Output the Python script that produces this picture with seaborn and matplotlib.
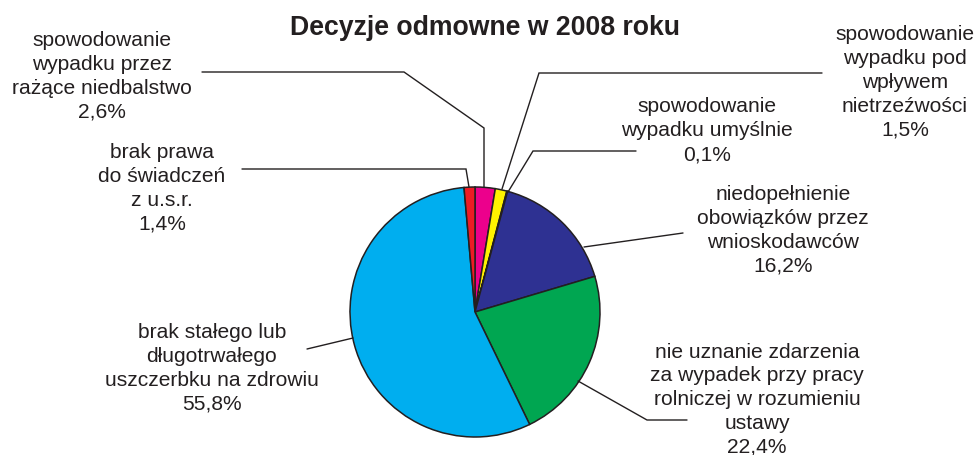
import matplotlib
matplotlib.use("Agg")
import matplotlib.pyplot as plt
import seaborn as sns

sns.set_theme(style="white")
plt.rcParams['font.family'] = ['Liberation Sans', 'DejaVu Sans']

# ---- data (clockwise from 12 o'clock) ----
categories = [
    "spowodowanie\nwypadku przez\nrażące niedbalstwo",
    "spowodowanie\nwypadku pod\nwpływem\nnietrzeźwości",
    "spowodowanie\nwypadku umyślnie",
    "niedopełnienie\nobowiązków przez\nwnioskodawców",
    "nie uznanie zdarzenia\nza wypadek przy pracy\nrolniczej w rozumieniu\nustawy",
    "brak stałego lub\ndługotrwałego\nuszczerbku na zdrowiu",
    "brak prawa\ndo świadczeń\nz u.s.r.",
]
values = [2.6, 1.5, 0.1, 16.2, 22.4, 55.8, 1.4]
colors = ["#EC008C", "#FFF200", "#F7941D", "#2E3192", "#00A651", "#00AEEF", "#ED1C24"]
title = "Decyzje odmowne w 2008 roku"

# ---- layout (pixel coordinates, y from top) ----
W, H = 979, 455
CX, CY, R = 475, 312, 125
label_pos = [(102, 41), (905, 35), (707, 107), (783, 195), (757, 352), (212, 333), (162, 153)]
leaders = [
    [(202, 72), (404, 72), (484, 128), (484, 187)],
    [(822, 73), (539, 73), (502, 189)],
    [(636, 151), (533, 151), (508, 192)],
    [(683, 233), (584, 247)],
    [(687, 420), (647, 420), (578, 381)],
    [(307, 349), (353, 338)],
    [(242, 169), (466, 169), (469, 187)],
]
PITCH = 23.8
TXT = "#231F20"

fig = plt.figure(figsize=(W / 100, H / 100), dpi=100)
ax = fig.add_axes([0, 0, 1, 1])

ax.pie(values, colors=colors, startangle=90, counterclock=False,
       center=(CX, H - CY), radius=R,
       wedgeprops=dict(edgecolor=TXT, linewidth=1.1))
ax.set_xlim(0, W)
ax.set_ylim(0, H)
ax.set_aspect('auto')
ax.axis('off')

for pts in leaders:
    ax.plot([p[0] for p in pts], [H - p[1] for p in pts], color=TXT, lw=1.0,
            solid_joinstyle='miter')

for cat, val, (lx, ly) in zip(categories, values, label_pos):
    lines = cat.split("\n") + [f"{val:.1f}".replace(".", ",") + "%"]
    for i, ln in enumerate(lines):
        ax.text(lx, H - (ly + i * PITCH), ln, ha='center', va='center',
                fontsize=15.1, color=TXT)

ax.text(485, H - 28, title, ha='center', va='center', fontsize=19.2,
        fontweight='bold', color=TXT)

fig.savefig("out.png", dpi=100)
